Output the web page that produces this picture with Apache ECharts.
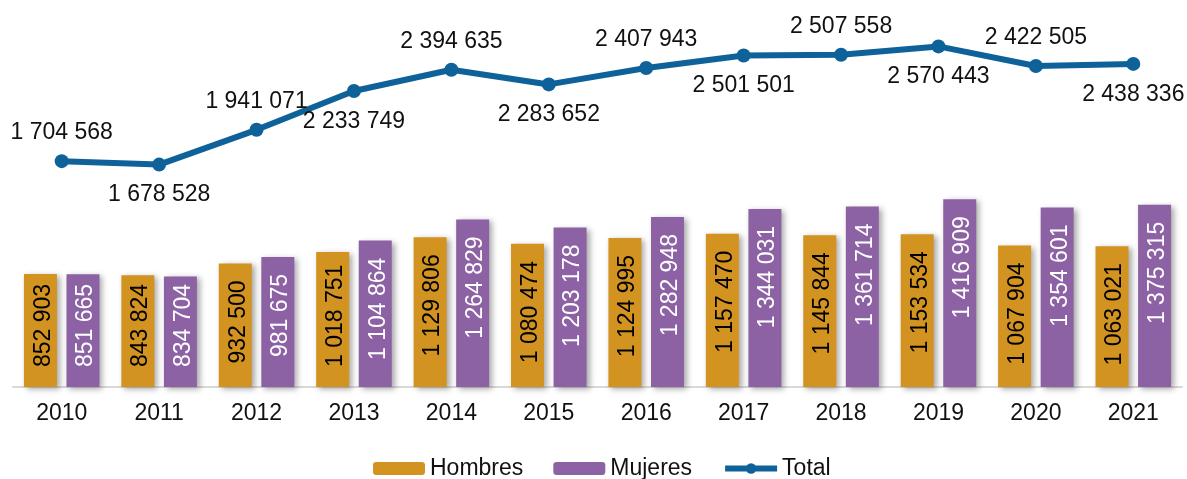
<!DOCTYPE html>
<html>
<head>
<meta charset="utf-8">
<script src="https://cdn.jsdelivr.net/npm/echarts@6/dist/echarts.min.js"></script>
<style>
  html, body { margin: 0; padding: 0; background: #fff; }
  #chart { width: 1187px; height: 479px; }
</style>
</head>
<body>
<div id="chart"></div>
<script>
var years = ['2010', '2011', '2012', '2013', '2014', '2015', '2016', '2017', '2018', '2019', '2020', '2021'];
var hombres = [852903, 843824, 932500, 1018751, 1129806, 1080474, 1124995, 1157470, 1145844, 1153534, 1067904, 1063021];
var mujeres = [851665, 834704, 981675, 1104864, 1264829, 1203178, 1282948, 1344031, 1361714, 1416909, 1354601, 1375315];
var total = [1704568, 1678528, 1941071, 2233749, 2394635, 2283652, 2407943, 2501501, 2507558, 2570443, 2422505, 2438336];

var font = '"Liberation Sans", Arial, sans-serif';
var labelSize = 23;
var lineColor = '#0E6299';

// 1 234 567 style
function fmt(v) {
    return String(v).replace(/\B(?=(\d{3})+(?!\d))/g, ' ');
}

var chart = echarts.init(document.getElementById('chart'), null, { renderer: 'canvas' });

var barShadow = {
    shadowColor: 'rgba(0,0,0,0.35)',
    shadowBlur: 6,
    shadowOffsetX: 3,
    shadowOffsetY: 2
};

function barLabel(color) {
    return {
        show: true,
        position: 'insideTop',
        distance: 17,
        rotate: 90,
        align: 'right',
        verticalAlign: 'middle',
        offset: [0, 3],
        color: color,
        fontFamily: font,
        fontSize: labelSize,
        formatter: function (p) { return fmt(p.value); }
    };
}

var totalData = total.map(function (v, i) {
    return {
        value: v,
        label: { position: i % 2 === 0 ? 'top' : 'bottom', distance: i % 2 === 0 ? 10 : 12 }
    };
});

var option = {
    animation: false,
    textStyle: { fontFamily: font },
    grid: { left: 13, right: 5, top: 16, bottom: 92 },
    legend: {
        top: 452,
        left: 368,
        itemWidth: 52,
        itemHeight: 13,
        itemGap: 30,
        textStyle: { fontSize: 23, color: '#111', fontFamily: font },
        data: [
            'Hombres',
            'Mujeres',
            { name: 'Total', lineStyle: { width: 6, color: lineColor } }
        ]
    },
    xAxis: {
        type: 'category',
        data: years,
        axisLine: { lineStyle: { color: '#d9d9d9', width: 2 } },
        axisTick: { show: false },
        axisLabel: { fontSize: 23, color: '#111', margin: 15, fontFamily: font }
    },
    yAxis: {
        type: 'value',
        min: 0,
        max: 2800000,
        show: false,
        splitLine: { show: false }
    },
    series: [
        {
            name: 'Hombres',
            type: 'bar',
            data: hombres,
            barWidth: 33,
            barGap: '29%',
            itemStyle: Object.assign({ color: '#D29321' }, barShadow),
            label: barLabel('#000')
        },
        {
            name: 'Mujeres',
            type: 'bar',
            data: mujeres,
            barWidth: 33,
            barGap: '29%',
            itemStyle: Object.assign({ color: '#8D62A5' }, barShadow),
            label: barLabel('#fff')
        },
        {
            name: 'Total',
            type: 'line',
            data: totalData,
            symbol: 'circle',
            symbolSize: 14,
            lineStyle: { color: lineColor, width: 6 },
            itemStyle: { color: lineColor },
            label: {
                show: true,
                color: '#111',
                fontSize: 23,
                fontFamily: font,
                formatter: function (p) { return fmt(p.value); }
            },
            z: 5
        }
    ]
};

chart.setOption(option);

// short bars: pull the rotated label up so it stays clear of the axis
var ctx = document.createElement('canvas').getContext('2d');
ctx.font = labelSize + 'px ' + font;
function seriesWithDistances(values, seriesIndex) {
    return values.map(function (v, i) {
        var top = chart.convertToPixel({ seriesIndex: seriesIndex }, [i, v])[1];
        var base = chart.convertToPixel({ seriesIndex: seriesIndex }, [i, 0])[1];
        var len = ctx.measureText(fmt(v)).width;
        var d = Math.min(17, base - top - 20 - len);
        return { value: v, label: { distance: Math.max(2, d) } };
    });
}
chart.setOption({
    series: [
        { name: 'Hombres', data: seriesWithDistances(hombres, 0) },
        { name: 'Mujeres', data: seriesWithDistances(mujeres, 1) }
    ]
});
</script>
</body>
</html>
